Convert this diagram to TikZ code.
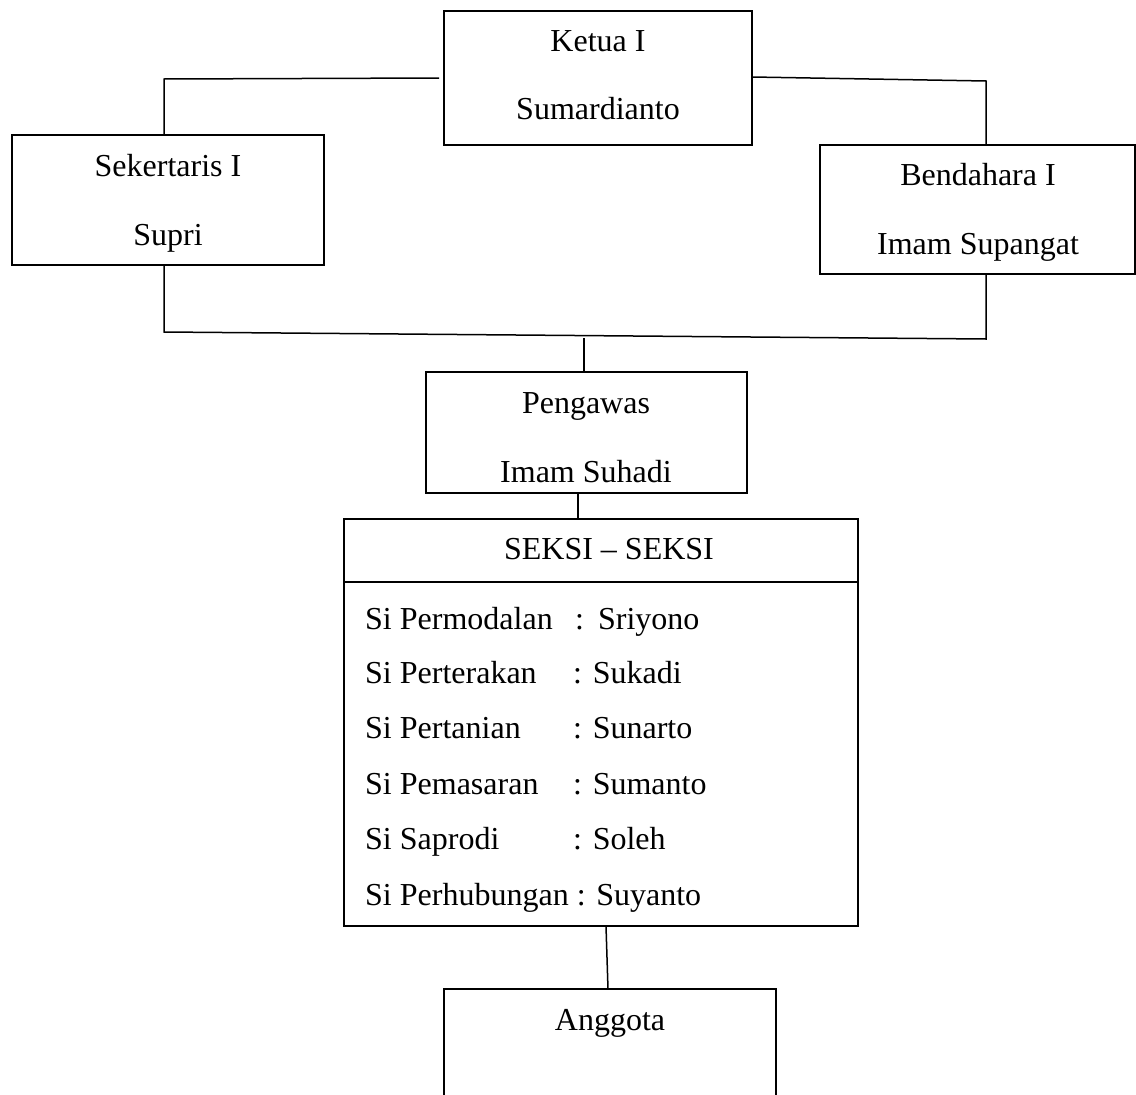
\documentclass[tikz,border=0pt]{standalone}
\usepackage{fontspec}
\setmainfont{Liberation Serif}
\begin{document}
\begin{tikzpicture}[x=1pt,y=-1pt,
  box/.style={draw=black,line width=1.5pt,rectangle,inner sep=0pt,outer sep=0pt},
  lbl/.style={anchor=base,inner sep=0pt,font=\fontsize{32}{38}\selectfont},
  row/.style={anchor=base west,inner sep=0pt,font=\fontsize{32}{38}\selectfont},
  conn/.style={line width=1.5pt,line join=miter}]
\useasboundingbox (0,0) rectangle (1136,1095);
\clip (0,0) rectangle (1136,1095);
% boxes
\node[box,minimum width=308pt,minimum height=134pt] (ketua) at (598,78) {};
\node[box,minimum width=312pt,minimum height=130pt] (sek) at (168,200) {};
\node[box,minimum width=315pt,minimum height=129pt] (bend) at (977.5,209.5) {};
\node[box,minimum width=321pt,minimum height=121pt] (peng) at (586.5,432.5) {};
\node[box,minimum width=514pt,minimum height=407pt] (seksi) at (601,722.5) {};
\node[box,minimum width=332pt,minimum height=160pt] (angg) at (610,1069) {};
\draw[conn] (seksi.west |- 0,582) -- (seksi.east |- 0,582);
% texts
\node[lbl] (t1) at (598,51) {Ketua I};
\node[lbl] (t2) at (598,119) {Sumardianto};
\node[lbl] (t3) at (168,176) {Sekertaris I};
\node[lbl] (t4) at (168,245) {Supri};
\node[lbl] (t5) at (978,185) {Bendahara I};
\node[lbl] (t6) at (978,254) {Imam Supangat};
\node[lbl] (t7) at (586,413) {Pengawas};
\node[lbl] (t8) at (586,482) {Imam Suhadi};
\node[lbl] (t9) at (609,559) {SEKSI -- SEKSI};
\node[row] (r1) at (365,629) {\makebox[210pt][l]{Si Permodalan}:\hspace{14pt}Sriyono};
\node[row] (r2) at (365,683) {\makebox[208pt][l]{Si Perterakan}: Sukadi};
\node[row] (r3) at (365,738) {\makebox[208pt][l]{Si Pertanian}: Sunarto};
\node[row] (r4) at (365,794) {\makebox[208pt][l]{Si Pemasaran}: Sumanto};
\node[row] (r5) at (365,849) {\makebox[208pt][l]{Si Saprodi}: Soleh};
\node[row] (r6) at (365,905) {Si Perhubungan : Suyanto};
\node[lbl] (t10) at (610,1030) {Anggota};
% junction coordinates
\coordinate (kl) at (164,79);
\coordinate (sektop) at (164,135);
\coordinate (kr) at (986,81);
\coordinate (bendtop) at (986,145);
\coordinate (sekbot) at (164,265);
\coordinate (bl) at (164,332);
\coordinate (br) at (986,339);
\coordinate (bendbot) at (986,274);
\coordinate (pj) at (584,338);
\coordinate (pengtop) at (584,372);
\coordinate (pengbot) at (578,493);
\coordinate (seksitop) at (578,519);
\coordinate (seksibot) at (606,926);
\coordinate (anggtop) at (608,989);
% connectors
\draw[conn] ([xshift=-5pt]ketua.west) -- (kl) -- (sektop);
\draw[conn] (ketua.east |- 0,77) -- (kr) -- (bendtop);
\draw[conn] (sekbot) -- (bl) -- (br) -- (bendbot);
\draw[conn] (pj) -- (pengtop);
\draw[conn] (pengbot) -- (seksitop);
\draw[conn] (seksibot) -- (anggtop);
\end{tikzpicture}
\end{document}
